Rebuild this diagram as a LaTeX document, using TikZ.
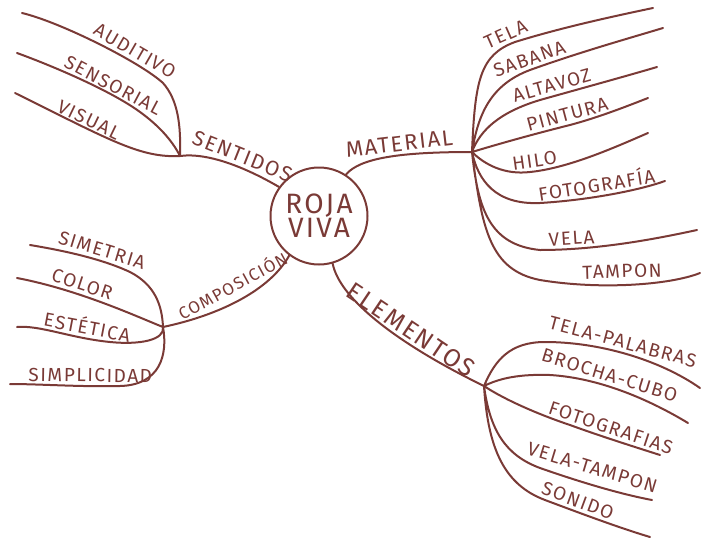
\documentclass[tikz,border=0pt]{standalone}
\usepackage{fontspec}
\setmainfont{Fira Sans}[LetterSpace=8]
\usepackage{tikz}
\usetikzlibrary{positioning, calc}
\definecolor{rojo}{HTML}{7A3A36}
\tikzstyle{rootbox}=[circle,draw=rojo,line width=2pt,minimum size=97pt,
align=center,text=rojo,font=\fontsize{28}{28}\selectfont,inner sep=0pt]
\tikzstyle{stemtext}=[text=rojo,inner sep=0pt,sloped,above=3pt,
font=\fontsize{21}{23}\selectfont]
\tikzstyle{leaftext}=[text=rojo,inner sep=0pt,sloped,above=3pt,
font=\fontsize{19}{21}\selectfont]
\tikzstyle{branch}=[draw=rojo,line width=2pt,line cap=round]

\begin{document}
\begin{tikzpicture}[x=1pt,y=-1pt]
    \useasboundingbox (0,0) rectangle (704,539);
    \node[rootbox] (root) at (319,216) {ROJA\\[-4pt]VIVA};

    % hubs
    \coordinate (sent) at (180,156);
    \coordinate (mat) at (472,152);
    \coordinate (elem) at (484,386);
    \coordinate (comp) at (163,327);

    % free ends
    \coordinate (audE) at (22,13);
    \coordinate (senE) at (17,53);
    \coordinate (visE) at (15,93);
    \coordinate (telaE) at (653,8);
    \coordinate (sabE) at (663,28);
    \coordinate (altE) at (657,67);
    \coordinate (pinE) at (648,98);
    \coordinate (hiloE) at (648,133);
    \coordinate (fotE) at (665,181);
    \coordinate (velE) at (697,230);
    \coordinate (tamE) at (700,273);
    \coordinate (tpE) at (700,388);
    \coordinate (bcE) at (688,423);
    \coordinate (fgE) at (660,455);
    \coordinate (vtE) at (652,500);
    \coordinate (sonE) at (650,537);
    \coordinate (simE) at (30,245);
    \coordinate (colE) at (17,278);
    \coordinate (estE) at (17,327);
    \coordinate (simpE) at (10,384);

    % main branches
    \path[branch]
        (root.144) .. controls (250,170) and (210,152) .. (sent)
            node[stemtext, pos=0.42] (lSent) {SENTIDOS}
        (root.57) .. controls (360,158) and (400,152) .. (mat)
            node[stemtext, pos=0.6, font=\fontsize{22}{24}\selectfont] (lMat) {MATERIAL}
        (root.286) .. controls (340,300) and (400,345) .. (elem)
            node[stemtext, pos=0.64, font=\fontsize{25}{27}\selectfont] (lElem) {ELEMENTOS}
        (root.233) .. controls (270,290) and (220,315) .. (comp)
            node[stemtext, pos=0.5, above=8pt, font=\fontsize{17}{19}\selectfont] (lComp) {COMPOSICIÓN};

    % sentidos
    \path[branch]
        (sent) .. controls (181,125) and (178,100) .. (163,83)
               .. controls (140,62) and (60,22) .. (audE)
            node[leaftext, pos=0.3] (lAud) {AUDITIVO}
        (sent) .. controls (172,140) and (158,125) .. (140,112)
               .. controls (110,90) and (50,65) .. (senE)
            node[leaftext, pos=0.28, above=1pt] (lSen) {SENSORIAL}
        (sent) .. controls (140,158) and (110,140) .. (visE)
            node[leaftext, pos=0.7, above=1pt] (lVis) {VISUAL};

    % material
    \path[branch]
        (mat) .. controls (475,80) and (480,55) .. (515,42)
            node[leaftext, pos=0.95] (lTela) {TELA}
              .. controls (560,28) and (610,17) .. (telaE)
        (mat) .. controls (478,115) and (490,85) .. (530,70)
              .. controls (580,52) and (630,38) .. (sabE)
            node[leaftext, pos=0.02] (lSab) {SABANA}
        (mat) .. controls (480,130) and (500,112) .. (540,100)
              .. controls (590,86) and (630,75) .. (altE)
            node[leaftext, pos=0.1] (lAlt) {ALTAVOZ}
        (mat) .. controls (495,145) and (530,135) .. (570,125)
              .. controls (600,117) and (630,105) .. (pinE)
            node[leaftext, pos=0.0] (lPin) {PINTURA}
        (mat) .. controls (485,165) and (505,175) .. (530,172)
              .. controls (570,168) and (620,145) .. (hiloE)
            node[leaftext, pos=0.05] (lHilo) {HILO}
        (mat) .. controls (478,180) and (495,205) .. (540,203)
              .. controls (590,200) and (640,190) .. (fotE)
            node[leaftext, pos=0.4] (lFot) {FOTOGRAFÍA}
        (mat) .. controls (478,210) and (490,245) .. (540,250)
              .. controls (600,250) and (660,238) .. (velE)
            node[leaftext, pos=0.18] (lVel) {VELA}
        (mat) .. controls (482,230) and (490,270) .. (540,280)
              .. controls (600,290) and (670,285) .. (tamE)
            node[leaftext, pos=0.45, above=6pt] (lTam) {TAMPON};

    % elementos
    \path[branch]
        (elem) .. controls (495,360) and (510,342) .. (545,342)
               .. controls (600,342) and (660,360) .. (tpE)
            node[leaftext, pos=0.45] (lTp) {TELA-PALABRAS}
        (elem) .. controls (500,378) and (520,374) .. (550,375)
               .. controls (600,378) and (650,400) .. (bcE)
            node[leaftext, pos=0.38] (lBc) {BROCHA-CUBO}
        (elem) .. controls (505,400) and (540,415) .. (570,425)
               .. controls (600,436) and (635,447) .. (fgE)
            node[leaftext, pos=0.4] (lFg) {FOTOGRAFIAS}
        (elem) .. controls (490,430) and (505,455) .. (540,468)
               .. controls (580,482) and (620,494) .. (vtE)
            node[leaftext, pos=0.4, above=9pt] (lVt) {VELA-TAMPON}
        (elem) .. controls (488,450) and (505,485) .. (545,500)
               .. controls (585,515) and (620,528) .. (sonE)
            node[leaftext, pos=0.25] (lSon) {SONIDO};

    % composicion
    \path[branch]
        (comp) .. controls (162,305) and (155,285) .. (130,272)
               .. controls (100,258) and (60,250) .. (simE)
            node[leaftext, pos=0.32] (lSim) {SIMETRIA}
        (comp) .. controls (140,318) and (80,290) .. (colE)
            node[leaftext, pos=0.66] (lCol) {COLOR}
        (comp) .. controls (165,340) and (140,345) .. (110,342)
               .. controls (70,338) and (40,325) .. (estE)
            node[leaftext, pos=0.22] (lEst) {ESTÉTICA}
        (comp) .. controls (168,355) and (160,385) .. (120,386)
               .. controls (80,387) and (40,384) .. (simpE)
            node[leaftext, pos=0.25] (lSimp) {SIMPLICIDAD};
\end{tikzpicture}
\end{document}
